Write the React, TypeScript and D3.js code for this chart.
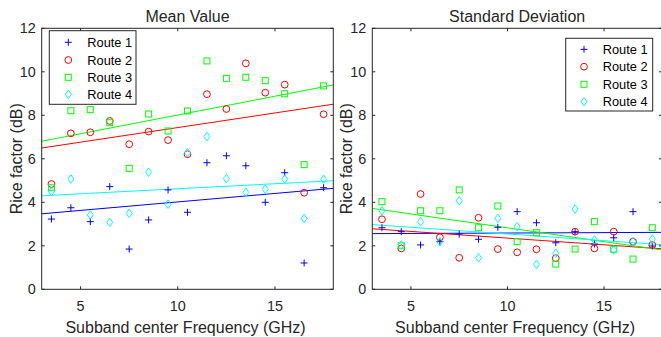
import React from "react";
import * as d3 from "d3";

const freqs = [3.5, 4.5, 5.5, 6.5, 7.5, 8.5, 9.5, 10.5, 11.5, 12.5, 13.5, 14.5, 15.5, 16.5, 17.5];

const meanRoute1 = [3.23, 3.75, 3.11, 4.72, 1.85, 3.19, 4.57, 3.54, 5.82, 6.14, 5.68, 4.0, 5.36, 1.21, 4.67];
const meanRoute2 = [4.84, 7.17, 7.22, 7.74, 6.67, 7.25, 6.86, 6.21, 8.97, 8.29, 10.39, 9.04, 9.41, 4.44, 8.05];
const meanRoute3 = [4.67, 8.21, 8.26, 7.66, 5.56, 8.06, 7.28, 8.2, 10.5, 9.7, 9.75, 9.59, 8.99, 5.73, 9.35];
const meanRoute4 = [4.49, 5.07, 3.42, 3.08, 3.49, 5.38, 3.91, 6.28, 7.02, 5.09, 4.46, 4.6, 5.07, 3.26, 5.06];

const stdRoute1 = [2.83, 2.65, 2.04, 2.19, 2.54, 2.3, 2.85, 3.57, 3.06, 2.14, 2.65, 2.08, 2.37, 3.57, 1.99];
const stdRoute2 = [3.22, 1.88, 4.38, 2.39, 1.45, 3.29, 1.85, 1.7, 1.84, 1.43, 2.65, 1.88, 2.65, 2.19, 2.04];
const stdRoute3 = [4.03, 2.0, 3.61, 3.61, 4.57, 2.83, 3.83, 2.19, 2.6, 1.16, 1.85, 3.11, 1.84, 1.39, 2.83];
const stdRoute4 = [3.61, 2.04, 3.11, 2.19, 4.07, 1.45, 3.26, 2.88, 1.15, 1.66, 3.69, 2.27, 1.81, 2.19, 2.31];

const routeNames = ["Route 1", "Route 2", "Route 3", "Route 4"];
const routeColors = ["#0000ff", "#ff0000", "#00ff00", "#00ffff"];
const routeMarkers = ["plus", "circle", "square", "diamond"];

const xTicks = [5, 10, 15];
const yTicks = [0, 2, 4, 6, 8, 10, 12];
const xDomain: [number, number] = [3, 18];
const yDomain: [number, number] = [0, 12];

const FONT = "'Liberation Sans', Arial, Helvetica, sans-serif";
const AX = "#262626";

function fit(xs: number[], ys: number[]) {
  const mx = d3.mean(xs) as number;
  const my = d3.mean(ys) as number;
  const sxy = d3.sum(xs, (x, i) => (x - mx) * (ys[i] - my));
  const sxx = d3.sum(xs, (x) => (x - mx) * (x - mx));
  const b = sxy / sxx;
  return (x: number) => my + b * (x - mx);
}

function Marker({ type, x, y, color }: { type: string; x: number; y: number; color: string }) {
  const sw = 1;
  if (type === "plus") {
    return (
      <path d={`M${x - 3.5},${y}H${x + 3.5}M${x},${y - 3.5}V${y + 3.5}`} stroke={color} strokeWidth={sw} fill="none" />
    );
  }
  if (type === "circle") {
    return <circle cx={x} cy={y} r={3.4} stroke={color} strokeWidth={sw} fill="none" />;
  }
  if (type === "square") {
    return <rect x={x - 3} y={y - 3} width={6} height={6} stroke={color} strokeWidth={sw} fill="none" />;
  }
  return (
    <path d={`M${x},${y - 4.3}L${x + 3},${y}L${x},${y + 4.3}L${x - 3},${y}Z`} stroke={color} strokeWidth={sw} fill="none" />
  );
}

type PanelProps = {
  left: number;
  right: number;
  top: number;
  bottom: number;
  title: string;
  series: number[][];
  legend: { x0: number; y0: number; x1: number; y1: number; rows: number[]; mx: number; tx: number };
  ylabelX: number;
};

function Panel({ left, right, top, bottom, title, series, legend, ylabelX }: PanelProps) {
  const x = d3.scaleLinear().domain(xDomain).range([left, right]);
  const y = d3.scaleLinear().domain(yDomain).range([bottom, top]);
  const line = d3
    .line<number>()
    .x((d) => x(d[0] as any))
    .y((d) => y(d[1] as any));
  const tl = 3;
  const cx = (left + right) / 2;
  return (
    <g>
      {/* fit lines */}
      {series.map((s, i) => {
        const f = fit(freqs, s);
        const pts: any = [
          [xDomain[0], f(xDomain[0])],
          [xDomain[1], f(xDomain[1])],
        ];
        return <path key={"f" + i} d={line(pts) as string} stroke={routeColors[i]} strokeWidth={1} fill="none" />;
      })}
      {/* markers */}
      {series.map((s, i) => (
        <g key={"m" + i}>
          {s.map((v, j) => (
            <Marker key={j} type={routeMarkers[i]} x={x(freqs[j])} y={y(v)} color={routeColors[i]} />
          ))}
        </g>
      ))}
      {/* axes box */}
      <rect x={left} y={top} width={right - left} height={bottom - top} fill="none" stroke={AX} strokeWidth={1} />
      {xTicks.map((t) => (
        <g key={"xt" + t}>
          <line x1={x(t)} x2={x(t)} y1={bottom} y2={bottom - tl} stroke={AX} />
          <line x1={x(t)} x2={x(t)} y1={top} y2={top + tl} stroke={AX} />
          <text x={x(t)} y={bottom + 22} textAnchor="middle" fontSize={14.4} fill={AX} fontFamily={FONT}>
            {t}
          </text>
        </g>
      ))}
      {yTicks.map((t) => (
        <g key={"yt" + t}>
          <line x1={left} x2={left + tl} y1={y(t)} y2={y(t)} stroke={AX} />
          <line x1={right} x2={right - tl} y1={y(t)} y2={y(t)} stroke={AX} />
          <text x={left - 6} y={y(t)} dy="0.35em" textAnchor="end" fontSize={14.4} fill={AX} fontFamily={FONT}>
            {t}
          </text>
        </g>
      ))}
      <text x={cx} y={21.5} textAnchor="middle" fontSize={16} fill={AX} fontFamily={FONT}>
        {title}
      </text>
      <text x={cx - 2} y={333} textAnchor="middle" fontSize={16} fill={AX} fontFamily={FONT}>
        Subband center Frequency (GHz)
      </text>
      <text
        transform={`translate(${ylabelX},${(top + bottom) / 2}) rotate(-90)`}
        textAnchor="middle"
        fontSize={16}
        fill={AX}
        fontFamily={FONT}
      >
        Rice factor (dB)
      </text>
      {/* legend */}
      <rect
        x={legend.x0}
        y={legend.y0}
        width={legend.x1 - legend.x0}
        height={legend.y1 - legend.y0}
        fill="#ffffff"
        stroke={AX}
        strokeWidth={1}
      />
      {routeNames.map((n, i) => (
        <g key={"l" + i}>
          <Marker type={routeMarkers[i]} x={legend.mx} y={legend.rows[i]} color={routeColors[i]} />
          <text x={legend.tx} y={legend.rows[i]} dy="0.36em" fontSize={12.8} fill="#000" fontFamily={FONT}>
            {n}
          </text>
        </g>
      ))}
    </g>
  );
}

export default function App() {
  return (
    <svg
      width={661}
      height={337}
      style={{ position: "absolute", left: 0, top: 0, background: "#fff" }}
      xmlns="http://www.w3.org/2000/svg"
    >
      <rect x={0} y={0} width={661} height={337} fill="#fff" />
      <Panel
        left={41.7}
        right={333.3}
        top={28.3}
        bottom={289.3}
        title="Mean Value"
        series={[meanRoute1, meanRoute2, meanRoute3, meanRoute4]}
        legend={{ x0: 49.3, y0: 30.7, x1: 136, y1: 104.3, rows: [42.3, 60, 77.3, 94.3], mx: 68.3, tx: 87.3 }}
        ylabelX={22}
      />
      <Panel
        left={372.3}
        right={662}
        top={28.3}
        bottom={289.3}
        title="Standard Deviation"
        series={[stdRoute1, stdRoute2, stdRoute3, stdRoute4]}
        legend={{ x0: 565.7, y0: 38.3, x1: 652.7, y1: 111, rows: [49.3, 66.7, 84.3, 101.7], mx: 584, tx: 602.7 }}
        ylabelX={352}
      />
    </svg>
  );
}
